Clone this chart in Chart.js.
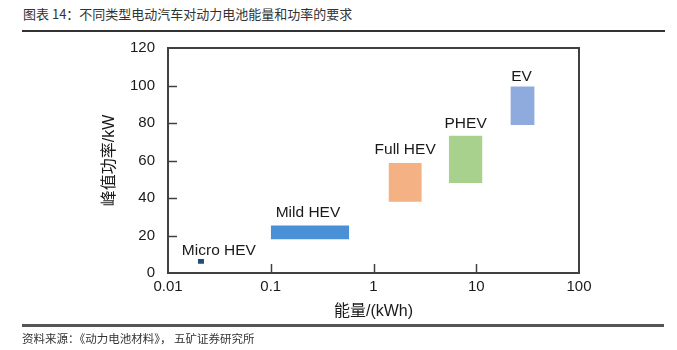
<!DOCTYPE html>
<html>
<head>
<meta charset="utf-8">
<script src="https://cdn.jsdelivr.net/npm/chart.js@4/dist/chart.umd.min.js"></script>
<style>
  html, body { margin: 0; padding: 0; background: #fff; }
  #wrap { position: relative; width: 677px; height: 350px; overflow: hidden; }
  #title { position: absolute; left: 23px; top: 5px; font: 13px "Noto Sans CJK SC", sans-serif; line-height: 18px; color: #333; white-space: nowrap; }
  #topline { position: absolute; left: 22px; top: 30px; width: 643px; height: 1.5px; background: #333; }
  #botline { position: absolute; left: 22px; top: 324px; width: 642px; height: 2.5px; background: #555; }
  #source { position: absolute; left: 22px; top: 330px; font: 11.5px "Noto Sans CJK SC", sans-serif; line-height: 16px; color: #333; white-space: nowrap; }
  canvas { position: absolute; left: 0; top: 0; }
</style>
</head>
<body>
<div id="wrap">
  <div id="title">图表 14：不同类型电动汽车对动力电池能量和功率的要求</div>
  <div id="topline"></div>
  <canvas id="c" width="677" height="350"></canvas>
  <div id="botline"></div>
  <div id="source">资料来源：《动力电池材料》， 五矿证券研究所</div>
</div>
<script>
// ---- data ----
const categories = ['Micro HEV', 'Mild HEV', 'Full HEV', 'PHEV', 'EV'];
const energyMin = [0.0195, 0.1, 1.4, 5.4, 21.5];   // kWh
const energyMax = [0.0224, 0.58, 2.95, 11.5, 37];  // kWh
const powerMin  = [5, 18, 38, 48, 79];             // kW
const powerMax  = [7.5, 25.4, 58.7, 73.2, 99.5];   // kW
const xTickValues = [0.01, 0.1, 1, 10, 100];
const xTickLabels = ['0.01', '0.1', '1', '10', '100'];
const yTickValues = [0, 20, 40, 60, 80, 100, 120];

// ---- styles ----
const colors = ['#1F4E79', '#4A90D6', '#F4B183', '#A9D18E', '#8FAADC'];
const labelShift = [{dx: 18, dy: 4}, {dx: -2, dy: 8.4}, {dx: 0, dy: 8.6}, {dx: 0, dy: 7.3}, {dx: -1, dy: 5}];
const FONT = '"Liberation Sans", Arial, "Noto Sans CJK SC", sans-serif';

const datasets = [];
categories.forEach((name, i) => {
  datasets.push({
    label: name + ' low',
    data: [{x: energyMin[i], y: powerMin[i]}, {x: energyMax[i], y: powerMin[i]}],
    borderWidth: 0, pointRadius: 0, fill: false, borderColor: colors[i]
  });
  datasets.push({
    label: name,
    data: [{x: energyMin[i], y: powerMax[i]}, {x: energyMax[i], y: powerMax[i]}],
    borderWidth: 0, pointRadius: 0, fill: '-1', borderColor: colors[i], backgroundColor: colors[i]
  });
});

const framePlugin = {
  id: 'frame',
  afterDatasetsDraw(chart) {
    const {ctx, chartArea: a, scales: {x, y}} = chart;
    ctx.save();
    ctx.strokeStyle = '#404040';
    ctx.lineWidth = 1.5;
    yTickValues.slice(1, -1).forEach(v => {
      const py = Math.round(y.getPixelForValue(v)) + 0.5;
      ctx.beginPath(); ctx.moveTo(a.left, py); ctx.lineTo(a.left + 9, py); ctx.stroke();
    });
    xTickValues.slice(1, -1).forEach(v => {
      const px = Math.round(x.getPixelForValue(v)) + 0.5;
      ctx.beginPath(); ctx.moveTo(px, a.bottom); ctx.lineTo(px, a.bottom - 9); ctx.stroke();
    });
    ctx.lineWidth = 2;
    ctx.strokeRect(a.left, a.top, a.right - a.left, a.bottom - a.top);
    // category labels
    ctx.fillStyle = '#1a1a1a';
    ctx.font = '15.5px ' + FONT;
    ctx.textAlign = 'center';
    ctx.textBaseline = 'alphabetic';
    categories.forEach((name, i) => {
      const cx = (x.getPixelForValue(energyMin[i]) + x.getPixelForValue(energyMax[i])) / 2;
      const ty = y.getPixelForValue(powerMax[i]);
      ctx.fillText(name, cx + labelShift[i].dx, ty - labelShift[i].dy);
    });
    ctx.restore();
  }
};

new Chart(document.getElementById('c'), {
  type: 'line',
  data: { datasets },
  plugins: [framePlugin],
  options: {
    responsive: false,
    animation: false,
    layout: { padding: { left: 0, top: 48, right: 98, bottom: 0 } },
    plugins: { legend: { display: false }, tooltip: { enabled: false } },
    scales: {
      x: {
        type: 'logarithmic',
        min: 0.01, max: 100,
        afterBuildTicks: s => { s.ticks = xTickValues.map(v => ({value: v})); },
        afterFit: s => { s.height = 77; },
        grid: { display: false, drawTicks: false },
        border: { display: false },
        ticks: {
          autoSkip: false, maxRotation: 0, padding: 5,
          color: '#1a1a1a', font: { family: FONT, size: 15 },
          callback: (v, i) => xTickLabels[i]
        },
        title: { display: true, text: '能量/(kWh)', color: '#1a1a1a',
                 font: { family: FONT, size: 16 }, padding: { top: 0, bottom: 29 } }
      },
      y: {
        type: 'linear',
        min: 0, max: 120,
        afterBuildTicks: s => { s.ticks = yTickValues.map(v => ({value: v})); },
        afterFit: s => { s.width = 168; },
        grid: { display: false, drawTicks: false },
        border: { display: false },
        ticks: { padding: 13, color: '#1a1a1a', font: { family: FONT, size: 15 } },
        title: { display: true, text: '峰值功率/kW', color: '#1a1a1a',
                 font: { family: FONT, size: 16 }, padding: { top: 100, bottom: 0 } }
      }
    }
  }
});
</script>
</body>
</html>
